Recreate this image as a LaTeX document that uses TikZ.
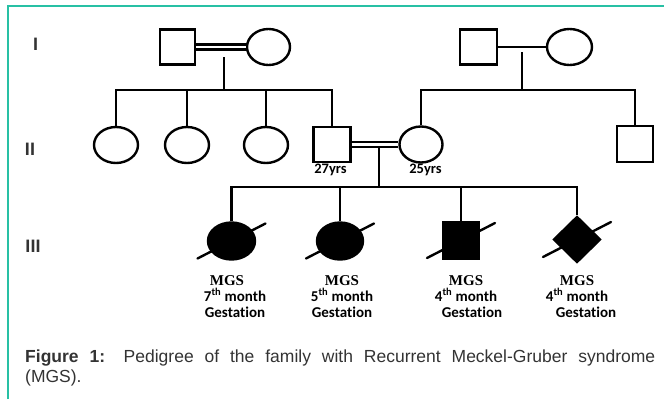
\documentclass[tikz,border=0pt]{standalone}
\usepackage{fontspec}
\setmainfont{Liberation Sans}
\newfontfamily\calfont[Ligatures=NoCommon]{Carlito}
\newfontfamily\serfont{Liberation Serif}
\usepackage{xcolor}
\usetikzlibrary{shapes.geometric}
\definecolor{frameteal}{RGB}{40,192,164}
\definecolor{captgray}{RGB}{51,51,51}
\tikzset{
  male/.style={draw,rectangle,line width=2.4pt,minimum width=35pt,minimum height=35pt,inner sep=0pt},
  female/.style={draw,ellipse,line width=2.4pt,minimum width=44pt,minimum height=36pt,inner sep=0pt},
  unknown/.style={draw,diamond,line width=2.4pt,minimum width=47pt,minimum height=46pt,inner sep=0pt},
  affected/.style={fill=black},
  pline/.style={line width=2.9pt},
  marry/.style={line width=2.6pt},
  consang/.style={double,double distance=2.6pt,line width=2.4pt},
  slash/.style={line width=2.4pt,line cap=round},
  gen/.style={font=\bfseries\fontsize{18}{18}\selectfont,text=captgray,anchor=base,inner sep=0pt},
  age/.style={font=\calfont\bfseries\fontsize{14.5}{14.5}\selectfont,anchor=base,inner sep=0pt},
  note/.style={align=center,anchor=north,inner sep=0pt,font=\calfont\bfseries\fontsize{15}{16}\selectfont},
  capt/.style={font=\fontsize{17.5}{20}\selectfont,text=captgray,anchor=base west,inner sep=0pt}
}
\begin{document}
\begin{tikzpicture}[x=1pt,y=-1pt]
\useasboundingbox (0,0) rectangle (664,399);
\draw[frameteal,line width=1.5pt] (8,399) -- (8,6) -- (664,6);
\node[gen] (genI) at (35.5,50) {I};
\node[gen] (genII) at (30,155) {II};
\node[gen] (genIII) at (33,252) {III};
\node[male] (gpA) at (177.5,47) {};
\node[female,minimum width=43pt] (gmA) at (268.5,47) {};
\node[male,minimum width=37pt] (gpB) at (478.5,47) {};
\node[female,minimum width=45pt] (gmB) at (569.5,47) {};
\node[female] (aunt1) at (116,145) {};
\node[female] (aunt2) at (187,145) {};
\node[female] (aunt3) at (266,145) {};
\node[male,minimum width=37pt] (father) at (332,144.5) {};
\node[female,minimum width=43pt] (mother) at (421,144.5) {};
\node[male,minimum width=36pt,minimum height=36pt] (uncle) at (635,144) {};
\node[age] (ageF) at (330.5,173) {27yrs};
\node[age] (ageM) at (425.5,173) {25yrs};
\node[female,affected,minimum width=47pt,minimum height=37pt] (fetA) at (231.5,241) {};
\node[female,affected,minimum width=46pt,minimum height=37pt] (fetB) at (340,241) {};
\node[male,affected,minimum width=36pt,minimum height=37pt] (fetC) at (461,240.5) {};
\node[unknown,affected] (fetD) at (577,239.5) {};
\coordinate (kidsA) at (224,57);
\coordinate (sibA) at (224,90);
\coordinate (kidsB) at (522,52);
\coordinate (sibB) at (522,90);
\coordinate (kidsC) at (379,147);
\coordinate (sibC) at (379,187);
\draw[consang] (gpA) -- (gmA);
\draw[pline] (kidsA) -- (sibA);
\draw[pline] (aunt1.north) -- (aunt1.north |- sibA) -- (father.north |- sibA) -- (father.north);
\foreach \kid in {aunt2,aunt3}
  \draw[pline] (\kid.north) -- (\kid.north |- sibA);
\draw[marry] (gpB) -- (gmB);
\draw[pline] (kidsB) -- (sibB);
\draw[pline] (mother.north) -- (mother.north |- sibB) -- (uncle.north |- sibB) -- (uncle.north);
\draw[consang] (father) -- (mother);
\draw[pline] (kidsC) -- (sibC);
\draw[pline] (fetA.north) -- (fetA.north |- sibC) -- (fetD.north |- sibC) -- (fetD.north);
\foreach \kid in {fetB,fetC}
  \draw[pline] (\kid.north) -- (\kid.north |- sibC);
\foreach \kid in {fetA,fetB,fetC,fetD}
  \draw[slash] ([shift={(-34,17.5)}]\kid.center) -- ([shift={(34,-17.5)}]\kid.center);
\node[note] (noteA) at (235,275) {{\serfont MGS}\hspace*{16pt}\\7\textsuperscript{th} month\\Gestation};
\node[note] (noteB) at (342,275) {{\serfont MGS}\\5\textsuperscript{th} month\\Gestation};
\node[note] (noteC) at (466,275) {{\serfont MGS}\\4\textsuperscript{th} month\\\hspace*{12pt}Gestation};
\node[note] (noteD) at (577,275) {{\serfont MGS}\\4\textsuperscript{th} month\\\hspace*{18pt}Gestation};
\node[capt] (capA) at (25,362.5) {\makebox[630pt][s]{\textbf{Figure 1:} Pedigree of the family with Recurrent Meckel-Gruber syndrome}};
\node[capt] (capB) at (25,382) {(MGS).};
\end{tikzpicture}
\end{document}
